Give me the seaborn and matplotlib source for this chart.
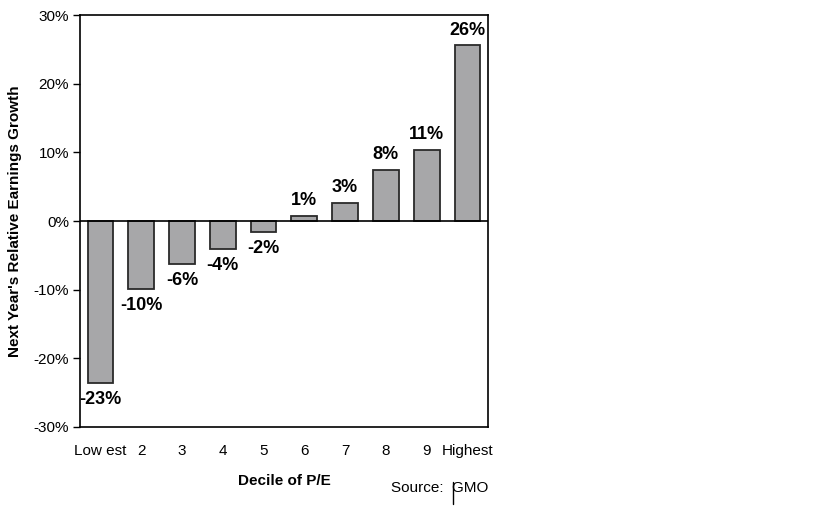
import pandas as pd
import seaborn as sns
import matplotlib.pyplot as plt
from matplotlib.lines import Line2D

# data
deciles = ['Low est', '2', '3', '4', '5', '6', '7', '8', '9', 'Highest']
growth = [-23.6, -9.9, -6.2, -4.1, -1.6, 0.8, 2.7, 7.4, 10.4, 25.6]
bar_labels = ['-23%', '-10%', '-6%', '-4%', '-2%', '1%', '3%', '8%', '11%', '26%']

df = pd.DataFrame({'decile': deciles, 'growth': growth})

sns.set_style('white')
plt.rcParams['font.family'] = ['Liberation Sans', 'DejaVu Sans']
plt.rcParams['text.color'] = 'black'
plt.rcParams['axes.labelcolor'] = 'black'
plt.rcParams['xtick.color'] = 'black'
plt.rcParams['ytick.color'] = 'black'

fig = plt.figure(figsize=(8.19, 5.07), dpi=100)
ax = fig.add_axes([0.0977, 0.158, 0.498, 0.812])

sns.barplot(data=df, x='decile', y='growth', color='#a7a7a9',
            saturation=1, edgecolor='#2a2a2a', linewidth=1.3,
            width=0.63, ax=ax)

ax.axhline(0, color='black', lw=1.2)
ax.set_ylim(-30, 30)
ax.set_xlim(-0.5, 9.5)
ax.set_yticks(range(-30, 31, 10))
ax.set_yticklabels([f'{t}%' for t in range(-30, 31, 10)], fontsize=11)
ax.tick_params(axis='y', direction='out', length=5, width=1, color='black',
               left=True, pad=3)
ax.tick_params(axis='x', length=0, labelsize=11, pad=12)
for s in ax.spines.values():
    s.set_color('black')
    s.set_linewidth(1.2)

# value labels
for i, (v, lab) in enumerate(zip(growth, bar_labels)):
    if v >= 0:
        ax.text(i, v + 1.0, lab, ha='center', va='bottom',
                fontsize=13, fontweight='bold')
    else:
        ax.text(i, v - 1.2, lab, ha='center', va='top',
                fontsize=13, fontweight='bold')

ax.set_xlabel('Decile of P/E', fontsize=11, fontweight='bold', labelpad=12)
ax.set_ylabel("Next Year's Relative Earnings Growth", fontsize=11,
              fontweight='bold', labelpad=8)

fig.text(0.477, 0.029, 'Source:  GMO', fontsize=11)
fig.add_artist(Line2D([0.5535, 0.5535], [0.006, 0.05], color='black', lw=1))

plt.savefig('out.png', dpi=100)
